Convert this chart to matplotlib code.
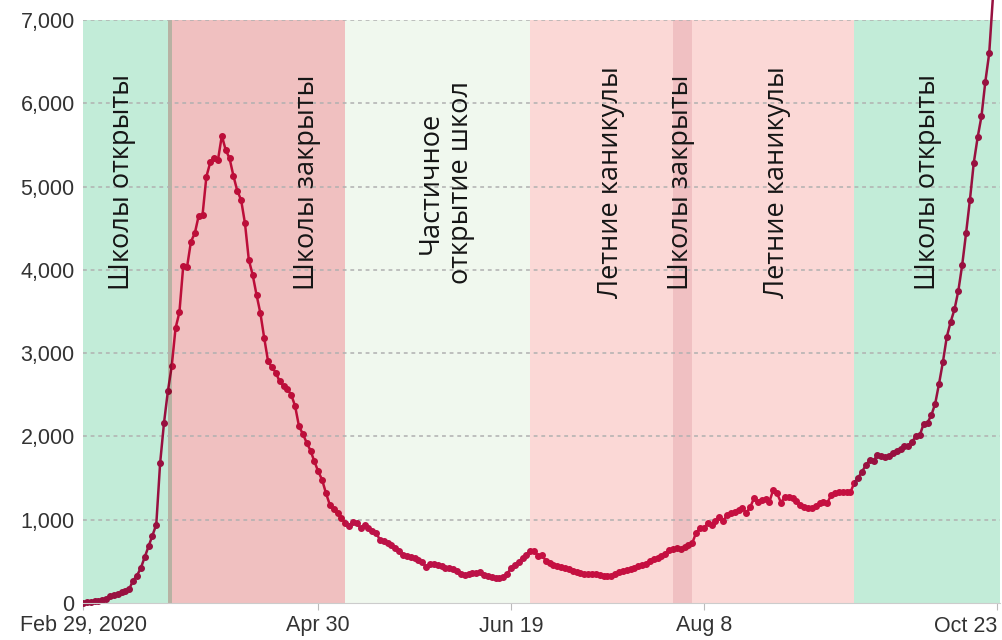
import matplotlib
matplotlib.use("Agg")
import matplotlib.pyplot as plt
import matplotlib.dates as mdates
import matplotlib.colors as mcolors
from matplotlib.patches import Rectangle
import numpy as np
import pandas as pd

plt.rcParams["font.family"] = ["Liberation Sans", "DejaVu Sans"]

START = "2020-02-29"

# daily new cases, Feb 29 .. Oct 23 2020
cases = [
    0, 10, 15, 20, 25, 35, 50, 80, 100, 110,
    130, 150, 170, 270, 330, 420, 550, 680, 810, 940,
    1680, 2160, 2540, 2840, 3300, 3490, 4050, 4040, 4340, 4440,
    4650, 4660, 5120, 5290, 5340, 5320, 5610, 5440, 5340, 5130,
    4950, 4840, 4560, 4120, 3940, 3700, 3480, 3180, 2900, 2830,
    2765, 2660, 2605, 2565, 2500, 2365, 2125, 2030, 1925, 1830,
    1700, 1580, 1480, 1320, 1180, 1125, 1075, 1015, 965, 930,
    970, 955, 900, 935, 900, 870, 845, 757, 740, 725,
    700, 660, 630, 580, 570, 550, 535, 520, 490, 430,
    470, 465, 455, 450, 420, 415, 410, 390, 350, 340,
    350, 355, 360, 375, 340, 325, 310, 305, 305, 310,
    350, 420, 455, 495, 545, 580, 620, 625, 565, 575,
    510, 480, 460, 445, 435, 420, 405, 385, 375, 365,
    350, 348, 348, 345, 338, 330, 324, 325, 345, 370,
    385, 392, 405, 425, 440, 455, 470, 510, 530, 545,
    560, 590, 640, 645, 665, 645, 675, 700, 720, 845,
    895, 900, 955, 940, 980, 1030, 980, 1060, 1080, 1090,
    1115, 1135, 1085, 1150, 1255, 1215, 1235, 1245, 1215, 1360,
    1315, 1205, 1275, 1270, 1260, 1220, 1180, 1155, 1145, 1135,
    1160, 1200, 1215, 1200, 1295, 1315, 1335, 1338, 1335, 1330,
    1440, 1505, 1575, 1655, 1715, 1710, 1775, 1760, 1750, 1770,
    1800, 1830, 1850, 1885, 1880, 1935, 2005, 2015, 2150, 2165,
    2255, 2395, 2635, 2895, 3195, 3375, 3525, 3750, 4060, 4440,
    4840, 5285, 5590, 5845, 6260, 6600, 7300, 8000,
]

# school periods (background bands)
period_starts = ["2020-02-29", "2020-03-22", "2020-05-07", "2020-06-24", "2020-07-31", "2020-09-16"]
period_ends = ["2020-03-23", "2020-05-07", "2020-06-24", "2020-09-16", "2020-08-05", "2020-10-26"]
period_colors = ["#c2ecd8", "#f0c0c0", "#f0f8ee", "#fbd8d6", "#f4e3e7", "#c2ecd8"]

label_texts = ["Школы открыты", "Школы закрыты", "Частичное\nоткрытие школ",
               "Летние каникулы", "Школы закрыты", "Летние каникулы", "Школы открыты"]
label_dates = ["2020-03-10", "2020-04-27", "2020-06-02", "2020-07-15",
               "2020-08-02", "2020-08-27", "2020-10-05"]

tick_dates = ["2020-02-29", "2020-04-30", "2020-06-19", "2020-08-08", "2020-10-23"]
tick_labels = ["Feb 29, 2020", "Apr 30", "Jun 19", "Aug 8", "Oct 23"]
y_ticks = [0, 1000, 2000, 3000, 4000, 5000, 6000, 7000]

LINE_COLOR = "#c8124c"


def mult(*cols):
    # "multiply" blend of several colours
    rgb = np.ones(3)
    for c in cols:
        rgb = rgb * np.array(mcolors.to_rgb(c))
    return tuple(rgb)


dates = pd.date_range(START, periods=len(cases), freq="D")
xs = mdates.date2num(dates)
p_start = mdates.date2num(pd.to_datetime(period_starts))
p_end = mdates.date2num(pd.to_datetime(period_ends))

fig = plt.figure(figsize=(10.02, 6.4), dpi=100)
ax = fig.add_axes([83 / 1002, 37 / 640, 917 / 1002, 583 / 640])

# split into elementary intervals so overlaps blend like "multiply"
bounds = sorted(set(p_start) | set(p_end))
for a, b in zip(bounds[:-1], bounds[1:]):
    mid = (a + b) / 2
    cover = [c for s, e, c in zip(p_start, p_end, period_colors) if s <= mid < e]
    if not cover:
        continue
    bg = mult(*cover)
    ax.axvspan(a, b, color=bg, lw=0, zorder=0)
    ln, = ax.plot(xs, cases, color=mult(LINE_COLOR, bg), lw=1.8,
                  marker="o", ms=4, zorder=4)
    ln.set_clip_path(Rectangle((a, -0.1), b - a, 2.0, transform=ax.get_xaxis_transform()))

for y in y_ticks[1:]:
    ax.axhline(y, color="#b0b0b0", lw=1.1, ls=(0, (2.5, 2.5)), zorder=2)

for txt, d in zip(label_texts, label_dates):
    ax.text(mdates.date2num(pd.Timestamp(d)), 5050, txt, rotation=90,
            ha="center", va="center", multialignment="center",
            fontsize=19.5, family=["Open Sans", "DejaVu Sans"],
            color="#151515", linespacing=1.1, zorder=6)

ax.set_xlim(xs[0], mdates.date2num(pd.Timestamp("2020-10-23")) + 0.8)
ax.set_ylim(0, 7000)

ax.set_xticks(mdates.date2num(pd.to_datetime(tick_dates)))
ax.set_xticklabels(tick_labels)
ax.get_xticklabels()[-1].set_ha("right")
ax.set_yticks(y_ticks)
ax.set_yticklabels([f"{v:,}" for v in y_ticks])

for s in ["top", "right", "left"]:
    ax.spines[s].set_visible(False)
ax.spines["bottom"].set_color("#cccccc")
ax.spines["bottom"].set_zorder(5)

ax.tick_params(axis="y", length=0, pad=6, labelsize=15.5, labelcolor="#333333")
ax.tick_params(axis="x", length=5, color="#bbbbbb", pad=4, labelsize=15.5, labelcolor="#333333")

fig.savefig("out.png", dpi=100)
